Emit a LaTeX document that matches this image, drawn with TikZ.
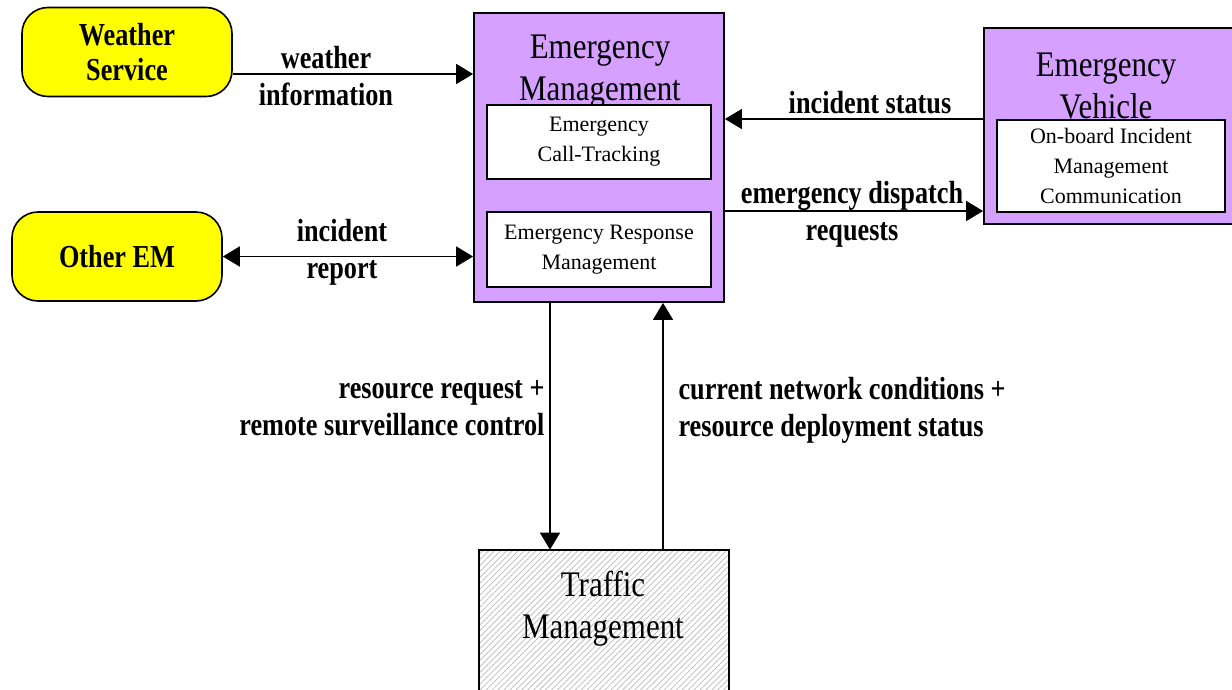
\documentclass[tikz,border=0pt]{standalone}
\usepackage{fontspec}
\setmainfont{Liberation Serif}
\newfontfamily\narrowserif[FakeStretch=0.82]{Liberation Serif}
\newfontfamily\titleserif[FakeStretch=0.86]{Liberation Serif}
\usetikzlibrary{positioning,arrows.meta,patterns.meta}
\definecolor{empurple}{RGB}{213,160,255}
\definecolor{termyellow}{RGB}{255,255,0}
\tikzset{
  terminator/.style={draw=black,line width=1.6pt,rounded corners=26pt,fill=termyellow,minimum width=210pt,minimum height=89pt,align=center,font=\narrowserif\bfseries\fontsize{32}{35}\selectfont},
  subsys/.style={draw=black,line width=1.8pt,fill=empurple,inner sep=0pt},
  hatched/.style={draw=black,line width=1.8pt,inner sep=0pt,pattern={Lines[angle=45,distance=4.2pt,line width=0.7pt]},pattern color=gray!55},
  title/.style={align=center,font=\titleserif\fontsize{36}{42}\selectfont},
  inner/.style={draw=black,line width=1.6pt,fill=white,align=center,font=\fontsize{22}{30}\selectfont},
  lbl/.style={align=center,font=\narrowserif\bfseries\fontsize{32}{37}\selectfont},
  flow/.style={-{Triangle[length=17pt,width=20pt]},line width=1.6pt,draw=black},
  duplex/.style={{Triangle[length=17pt,width=20pt]}-{Triangle[length=17pt,width=20pt]},line width=1.6pt,draw=black}
}
\begin{document}
\begin{tikzpicture}[x=1pt,y=-1pt]
% Kontext EM
\useasboundingbox (0,0) rectangle (1232,689);

\node[terminator] (ws) at (127,52) {Weather\\Service};
\node[terminator] (oem) at (117,256.5) {Other EM};

\node[subsys,minimum width=250pt,minimum height=289pt] (em) at (599,157.5) {};
\node[title] (emt) at (600,72) {Emergency\\Management};
\node[inner,minimum width=224pt,minimum height=74pt] (ect) at (599,142) {Emergency\\Call-Tracking};
\node[inner,minimum width=224pt,minimum height=75pt] (erm) at (599,249.5) {Emergency Response\\Management};

\node[subsys,minimum width=256pt,minimum height=196pt] (ev) at (1112,126) {};
\node[title] (evt) at (1106,86) {Emergency\\Vehicle};
\node[inner,minimum width=228pt,minimum height=92pt] (obc) at (1111,166) {On-board Incident\\Management\\Communication};

\node[hatched,minimum width=250pt,minimum height=160pt] (tm) at (604,630) {};
\node[title] (tmt) at (603,609) {Traffic\\Management};

\coordinate (wsout) at ([yshift=-22pt]ws.east);
\coordinate (evin) at ([yshift=7pt]ev.west);
\coordinate (emout) at ([yshift=-53.5pt]em.east);
\coordinate (rq) at ([xshift=-49pt]em.south);
\coordinate (st) at ([xshift=64pt]em.south);

\draw[flow] (wsout) -- (wsout -| em.west);
\draw[duplex] (oem.east) -- (oem.east -| em.west);
\draw[flow] (evin) -- (evin -| em.east);
\draw[flow] (emout) -- (emout -| ev.west);
\draw[flow] (rq) -- (rq |- tm.north);
\draw[flow] (st |- tm.north) -- (st);

\node[lbl] (wslbl) at (326,76) {weather\\information};
\node[lbl] (irlbl) at (342,252) {incident\\report};
\node[lbl] (islbl) at (870,103) {incident status};
\node[lbl] (edlbl) at (852,214) {emergency dispatch\\requests};
\node[lbl,align=right,anchor=east] (rqlbl) at (548,408) {resource request +\\remote surveillance control};
\node[lbl,align=left,anchor=west] (stlbl) at (675,410) {current network conditions +\\resource deployment status};
\end{tikzpicture}
\end{document}
